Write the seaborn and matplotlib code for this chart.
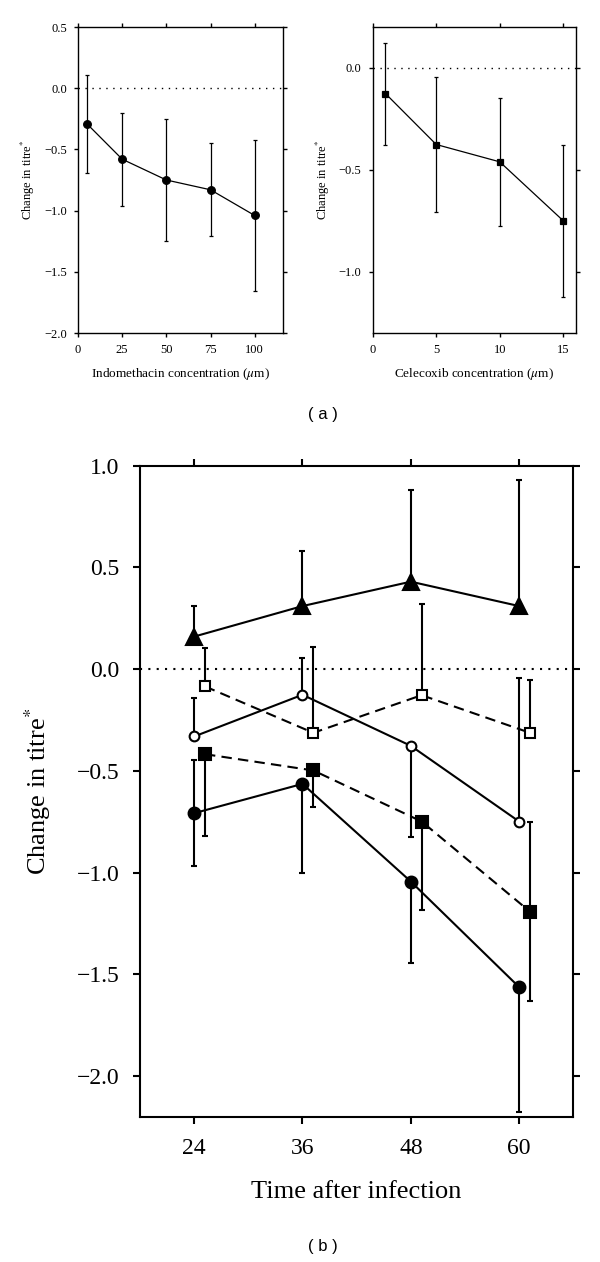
import matplotlib
matplotlib.use("Agg")
import matplotlib.pyplot as plt
import seaborn as sns
import pandas as pd

sns.set_theme(style="ticks")
plt.rcParams['font.family'] = ['Liberation Serif', 'DejaVu Serif']
plt.rcParams['mathtext.fontset'] = 'stix'
plt.rcParams['text.color'] = 'black'
plt.rcParams['axes.labelcolor'] = 'black'

# ---- panel (a), left: indomethacin dose response ----
indo_conc = [5, 25, 50, 75, 100]
indo_change = [-0.29, -0.58, -0.75, -0.83, -1.04]
indo_err = [0.40, 0.38, 0.50, 0.38, 0.615]

# ---- panel (a), right: celecoxib dose response ----
cele_conc = [1, 5, 10, 15]
cele_change = [-0.126, -0.376, -0.461, -0.75]
cele_err = [0.25, 0.33, 0.315, 0.374]

# ---- panel (b): time course ----
hours = [24, 36, 48, 60]
square_shift = 1.2  # square series are drawn slightly right of the tick

tri_change = [0.16, 0.31, 0.43, 0.31]
tri_lo = [0, 0, 0, 0]
tri_hi = [0.15, 0.27, 0.45, 0.62]

osq_change = [-0.085, -0.313, -0.128, -0.313]
osq_lo = [0, 0, 0, 0]
osq_hi = [0.19, 0.42, 0.45, 0.26]

ocirc_change = [-0.331, -0.126, -0.377, -0.749]
ocirc_lo = [0, 0, 0.45, 0]
ocirc_hi = [0.19, 0.18, 0, 0.705]

fsq_change = [-0.418, -0.498, -0.749, -1.192]
fsq_lo = [0.40, 0.18, 0.434, 0.437]
fsq_hi = [0, 0, 0, 0.443]

fcirc_change = [-0.708, -0.564, -1.044, -1.563]
fcirc_lo = [0.262, 0.437, 0.40, 0.615]
fcirc_hi = [0.262, 0, 0, 0]


def style_axes(ax, lw, tick_len, tick_size, pad):
    for s in ax.spines.values():
        s.set_visible(True)
        s.set_linewidth(lw)
        s.set_color("black")
    ax.tick_params(which="both", direction="out", length=tick_len, width=lw,
                   top=True, right=True, labeltop=False, labelright=False,
                   labelsize=tick_size, pad=pad, colors="black")
    ax.grid(False)


def draw_series(ax, x, y, lo, hi, marker, ms, filled, ls, lw, cap):
    ax.errorbar(x, y, yerr=[lo, hi], fmt="none", ecolor="black",
                elinewidth=lw, capsize=cap, capthick=lw, zorder=2)
    df = pd.DataFrame({"x": x, "y": y})
    sns.lineplot(data=df, x="x", y="y", ax=ax, color="black", lw=lw,
                 linestyle=ls, marker=marker, markersize=ms,
                 markerfacecolor="black" if filled else "white",
                 markeredgecolor="black", markeredgewidth=lw,
                 errorbar=None, zorder=3)


fig = plt.figure(figsize=(6.0, 12.62), dpi=100)
W, H = 600, 1262


def add_axes(left, top, right, bottom):
    return fig.add_axes([left / W, 1 - bottom / H, (right - left) / W, (bottom - top) / H])


# panel (a) left
ax1 = add_axes(78, 27, 283, 333)
ax1.axhline(0, color="black", lw=1.0, ls=(0, (1, 4)), zorder=1)
draw_series(ax1, indo_conc, indo_change, indo_err, indo_err, "o", 5.5, True, "-", 0.9, 1.6)
ax1.set_xlim(0, 116)
ax1.set_ylim(-2.0, 0.5)
ax1.set_xticks([0, 25, 50, 75, 100])
ax1.set_yticks([-2.0, -1.5, -1.0, -0.5, 0.0, 0.5])
ax1.set_yticklabels(["\u22122.0", "\u22121.5", "\u22121.0", "\u22120.5", "0.0", "0.5"])
style_axes(ax1, 1.0, 3, 9, 5)
ax1.set_xlabel("Indomethacin concentration ($\\mu$m)", fontsize=9.5)
ax1.set_ylabel("Change in titre$^{*}$", fontsize=9)
ax1.xaxis.set_label_coords(0.5, -33 / 306)
ax1.yaxis.set_label_coords((37 - 78) / 205, 0.5)

# panel (a) right
ax2 = add_axes(372.7, 27, 576, 333)
ax2.axhline(0, color="black", lw=1.0, ls=(0, (1, 4)), zorder=1)
draw_series(ax2, cele_conc, cele_change, cele_err, cele_err, "s", 5, True, "-", 0.9, 1.6)
ax2.set_xlim(0, 16)
ax2.set_ylim(-1.3, 0.2)
ax2.set_xticks([0, 5, 10, 15])
ax2.set_yticks([-1.0, -0.5, 0.0])
ax2.set_yticklabels(["\u22121.0", "\u22120.5", "0.0"])
style_axes(ax2, 1.0, 3, 9, 5)
ax2.set_xlabel("Celecoxib concentration ($\\mu$m)", fontsize=9.5)
ax2.set_ylabel("Change in titre$^{*}$", fontsize=9)
ax2.xaxis.set_label_coords(0.5, -33 / 306)
ax2.yaxis.set_label_coords((332 - 372.7) / 203.3, 0.5)

fig.text(323 / W, 1 - 415 / H, "( a )", ha="center", va="center",
         fontsize=12, family=["Liberation Sans", "DejaVu Sans"])

# panel (b)
ax3 = add_axes(140, 465.7, 573.3, 1116.7)
ax3.axhline(0, color="black", lw=1.5, ls=(0, (1, 3)), zorder=1)
sq_hours = [h + square_shift for h in hours]
draw_series(ax3, hours, tri_change, tri_lo, tri_hi, "^", 11, True, "-", 1.5, 2)
draw_series(ax3, sq_hours, osq_change, osq_lo, osq_hi, "s", 7, False, (0, (5, 3)), 1.5, 2)
draw_series(ax3, hours, ocirc_change, ocirc_lo, ocirc_hi, "o", 7, False, "-", 1.5, 2)
draw_series(ax3, sq_hours, fsq_change, fsq_lo, fsq_hi, "s", 8.5, True, (0, (5, 3)), 1.5, 2)
draw_series(ax3, hours, fcirc_change, fcirc_lo, fcirc_hi, "o", 8.5, True, "-", 1.5, 2)
ax3.set_xlim(18, 66)
ax3.set_ylim(-2.2, 1.0)
ax3.set_xticks(hours)
ax3.set_yticks([-2.0, -1.5, -1.0, -0.5, 0.0, 0.5, 1.0])
ax3.set_yticklabels(["\u22122.0", "\u22121.5", "\u22121.0", "\u22120.5", "0.0", "0.5", "1.0"])
style_axes(ax3, 1.5, 5, 17, 10)
ax3.set_xlabel("Time after infection", fontsize=19)
ax3.set_ylabel("Change in titre$^{*}$", fontsize=19)
ax3.xaxis.set_label_coords(0.5, -64 / 651)
ax3.yaxis.set_label_coords((53 - 140) / 433.3, 0.5)

fig.text(323 / W, 1 - 1246 / H, "( b )", ha="center", va="center",
         fontsize=12, family=["Liberation Sans", "DejaVu Sans"])

fig.savefig("out.png", dpi=100, facecolor="white")
